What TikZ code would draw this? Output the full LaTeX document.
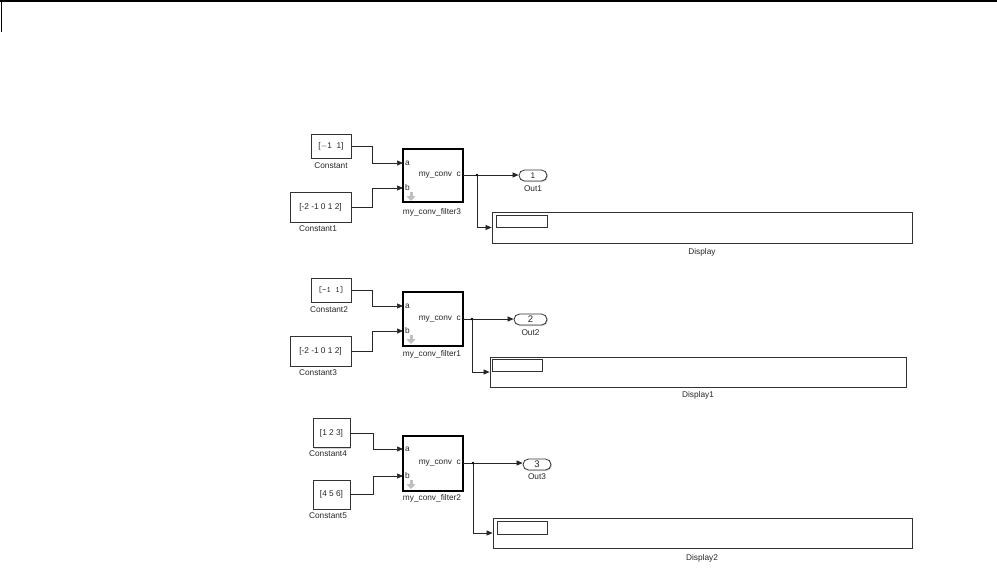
\documentclass[tikz,border=0pt]{standalone}
\usepackage{fontspec}
\setmainfont{Liberation Sans}
\usetikzlibrary{arrows.meta,shadows}
\begin{document}
\begin{tikzpicture}[x=1pt,y=-1pt,
  every node/.style={font=\fontsize{8.3}{10}\selectfont, inner sep=0pt, text=black!85},
  shad/.style={drop shadow={shadow xshift=1pt,shadow yshift=-1pt,fill=gray!40,opacity=0.8}},
  cbox/.style={draw=black!80, line width=0.8pt, fill=white, shad},
  blk/.style={draw, line width=1.3pt, fill=white, shad, minimum width=60pt},
  outp/.style={draw=black!80, line width=0.8pt, rounded corners=5.5pt, fill=white, shad, minimum height=11pt},
  disp/.style={draw=black!80, line width=0.8pt, fill=white, shad},
  inner/.style={draw=black!80, line width=0.7pt, fill=white},
  lbl/.style={text=black!85},
  conn/.style={line width=0.7pt, draw=black!85, -{Triangle[length=6pt,width=5pt]}},
  dnarrow/.style={draw=gray!50, line width=3pt, -{Triangle[length=5pt,width=9pt]}}
]
\useasboundingbox (0,0) rectangle (997,571);
% top frame fragments
\draw[line width=1.5pt] (0,0.75) -- (997,0.75);
\draw[line width=1.5pt] (1.5,0) -- (1.5,32);

% ================= Group 1 =================
\node[cbox, minimum width=40pt, minimum height=24pt] (c0) at (331,146) {[$-$1\ \ 1]};
\node[lbl] (c0l) at (331,166) {Constant};
\node[cbox, minimum width=61pt, minimum height=30pt] (c1) at (320.5,207) {[-2 -1 0 1 2]};
\node[lbl] (c1l) at (318,229) {Constant1};
\node[blk, minimum height=53pt] (b1) at (433,175.5) {};
\node[lbl] (b1l) at (432,212) {my\_conv\_filter3};
\coordinate (b1a) at (403,163);
\coordinate (b1b) at (403,188);
\coordinate (b1c) at (463,175);
\node[anchor=west] (b1pa) at (405,163) {a};
\node[anchor=west] (b1pb) at (405,188) {b};
\node[anchor=east] (b1pc) at (461,175) {my\_conv\ \ c};
\coordinate (b1d0) at (411,192);
\coordinate (b1d1) at (411,201);
\draw[dnarrow] (b1d0) -- (b1d1);
\draw[conn] (c0.east) -- ++(21,0) |- (b1a);
\draw[conn] (c1.east) -- ++(21,0) |- (b1b);
\node[outp, minimum width=28pt] (o1) at (533,175.5) {1};
\node[lbl] (o1l) at (533,189) {Out1};
\coordinate (br1) at (477,175);
\draw[conn] (b1c) -- (o1.west |- b1c);
\fill (br1) circle (1.3pt);
\node[disp, minimum width=420pt, minimum height=31pt] (d1) at (702,227.5) {};
\node[inner, minimum width=51pt, minimum height=12pt] (d1i) at (521.5,221) {};
\node[lbl] (d1l) at (702,252) {Display};
\draw[conn] (br1) |- (d1.west);

% ================= Group 2 =================
\node[cbox, minimum width=40pt, minimum height=24pt] (c2) at (331,290) {\texttt{[-1 1]}};
\node[lbl] (c2l) at (329,310) {Constant2};
\node[cbox, minimum width=61pt, minimum height=30pt] (c3) at (320.5,351) {[-2 -1 0 1 2]};
\node[lbl] (c3l) at (318,373) {Constant3};
\node[blk, minimum height=54pt] (b2) at (433,319) {};
\node[lbl] (b2l) at (432,354) {my\_conv\_filter1};
\coordinate (b2a) at (403,306);
\coordinate (b2b) at (403,331);
\coordinate (b2c) at (463,319);
\node[anchor=west] (b2pa) at (405,306) {a};
\node[anchor=west] (b2pb) at (405,331) {b};
\node[anchor=east] (b2pc) at (461,319) {my\_conv\ \ c};
\coordinate (b2d0) at (411,335);
\coordinate (b2d1) at (411,344);
\draw[dnarrow] (b2d0) -- (b2d1);
\draw[conn] (c2.east) -- ++(21,0) |- (b2a);
\draw[conn] (c3.east) -- ++(21,0) |- (b2b);
\node[outp, minimum width=33pt] (o2) at (530.5,319.5) {\fontsize{9.5}{10}\selectfont 2};
\node[lbl] (o2l) at (530.5,333) {Out2};
\coordinate (br2) at (472,319);
\draw[conn] (b2c) -- (o2.west |- b2c);
\fill (br2) circle (1.3pt);
\node[disp, minimum width=416pt, minimum height=30pt] (d2) at (698,372) {};
\node[inner, minimum width=50pt, minimum height=12pt] (d2i) at (517,365) {};
\node[lbl] (d2l) at (698,395) {Display1};
\draw[conn] (br2) |- (d2.west);

% ================= Group 3 =================
\node[cbox, minimum width=37pt, minimum height=29pt] (c4) at (331.5,433) {[1 2 3]};
\node[lbl] (c4l) at (328,454) {Constant4};
\node[cbox, minimum width=37pt, minimum height=29pt] (c5) at (331.5,494.5) {[4 5 6]};
\node[lbl] (c5l) at (328,516) {Constant5};
\node[blk, minimum height=55pt] (b3) at (433,463.5) {};
\node[lbl] (b3l) at (432,498) {my\_conv\_filter2};
\coordinate (b3a) at (403,449);
\coordinate (b3b) at (403,476);
\coordinate (b3c) at (463,463);
\node[anchor=west] (b3pa) at (405,449) {a};
\node[anchor=west] (b3pb) at (405,476) {b};
\node[anchor=east] (b3pc) at (461,463) {my\_conv\ \ c};
\coordinate (b3d0) at (411,480);
\coordinate (b3d1) at (411,489);
\draw[dnarrow] (b3d0) -- (b3d1);
\draw[conn] (c4.east) -- ++(22.5,0) |- (b3a);
\draw[conn] (c5.east) -- ++(22.5,0) |- (b3b);
\node[outp, minimum width=28pt] (o3) at (537,464.5) {\fontsize{9.5}{10}\selectfont 3};
\node[lbl] (o3l) at (537,477) {Out3};
\coordinate (br3) at (473,463);
\draw[conn] (b3c) -- (o3.west |- b3c);
\fill (br3) circle (1.3pt);
\node[disp, minimum width=419pt, minimum height=30pt] (d3) at (702.5,533) {};
\node[inner, minimum width=50pt, minimum height=13pt] (d3i) at (522,527.5) {};
\node[lbl] (d3l) at (702,558) {Display2};
\draw[conn] (br3) |- (d3.west);
\end{tikzpicture}
\end{document}
